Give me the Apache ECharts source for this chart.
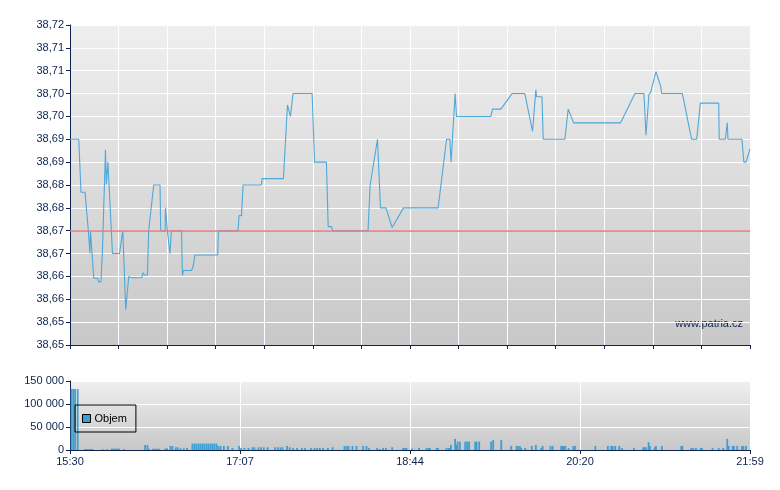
<!DOCTYPE html>
<html><head><meta charset="utf-8">
<script src="https://cdn.jsdelivr.net/npm/echarts@6/dist/echarts.min.js"></script>
<style>html,body{margin:0;padding:0;background:#fff}#c{width:780px;height:490px}</style>
</head><body><div id="c"></div>
<script>
// minutes after 15:30
const priceTimes = [0,5,6.3,8.6,10.5,11.4,11.7,12.4,13.6,15.9,16.4,17.7,18.5,20.3,20.8,21.7,22.5,24.3,28.3,30.2,31.9,32.4,33.6,34.9,41.0,41.8,42.6,44.3,45.0,47.9,51.5,51.9,54.4,54.6,55.3,55.7,57.2,58.0,63.8,64.3,64.9,69.5,70.4,71.5,84.5,84.9,96.1,96.7,98.1,99.0,109.5,109.9,122.1,124.4,125.3,126.1,126.9,127.6,138.5,139.9,146.7,147.7,149.6,150.2,170.5,171.7,175.9,177.6,180.7,184.3,190.8,210.6,215.4,217.3,218.0,220.3,221.1,240.8,241.7,246.5,252.9,260.2,264.6,266.5,266.9,270.0,270.7,283.1,285.0,288.1,315.0,323.2,328.3,329.5,331.2,332.2,335.2,337.9,338.5,350.3,355.6,358.5,360.6,371.1,371.4,374.9,376.0,376.4,384.4,385.5,386.7,389];
const priceValues = [38.695,38.695,38.6834,38.6834,38.675,38.670,38.675,38.675,38.6646,38.6646,38.6638,38.6638,38.670,38.6927,38.6851,38.690,38.690,38.670,38.670,38.675,38.6577,38.6577,38.665,38.6647,38.6647,38.6658,38.6653,38.6653,38.675,38.685,38.685,38.675,38.675,38.680,38.680,38.675,38.670,38.675,38.675,38.6652,38.6663,38.6663,38.6671,38.6697,38.6697,38.675,38.675,38.6783,38.6783,38.685,38.685,38.6864,38.6864,38.7025,38.7025,38.700,38.700,38.705,38.705,38.690,38.690,38.6759,38.6759,38.675,38.675,38.685,38.695,38.680,38.680,38.6757,38.680,38.680,38.695,38.695,38.690,38.705,38.700,38.700,38.7016,38.7016,38.705,38.705,38.6967,38.7058,38.7043,38.7043,38.695,38.695,38.7016,38.6986,38.6986,38.705,38.705,38.6959,38.7048,38.7053,38.7098,38.7066,38.705,38.705,38.695,38.695,38.7029,38.7029,38.695,38.695,38.6986,38.695,38.695,38.690,38.690,38.6929];
const refPrice = 38.675;

const volTimes = [0.9,1.9,2.9,4.4,8.6,9.7,10.9,12.0,13.0,18.9,21.2,23.9,25.0,26.2,27.3,27.9,30.7,42.9,44.3,45.2,47.5,48.6,49.8,50.9,54.6,55.5,57.5,58.6,60.5,61.6,63.2,65.1,67.0,70.0,71.2,72.3,73.5,74.6,75.8,76.9,78.1,79.2,80.4,81.5,82.6,83.8,84.9,86.1,88.0,90.3,92.9,96.7,97.9,99.8,102.1,104.4,105.5,107.8,109.3,110.9,113.1,117.3,118.9,120.4,121.6,124.2,125.7,127.6,129.9,132.6,134.5,137.9,139.9,141.4,142.9,144.8,147.5,150.2,157.0,158.2,159.3,161.6,163.9,167.7,169.6,171.1,175.7,177.2,179.1,180.7,184.3,190.6,191.7,192.5,195.7,199.7,204.0,205.1,205.9,209.7,210.6,215.4,216.6,217.3,217.9,220.3,220.9,221.7,223.0,226.1,227.2,228.3,231.8,232.6,234.1,240.9,242.1,246.7,252.4,255.5,256.2,257.4,258.1,260.4,264.2,266.5,269.6,270.4,274.9,276.1,281.0,281.8,282.5,283.3,285.2,287.9,289.0,300.5,307.7,309.6,310.4,311.9,314.2,315.7,322.6,327.9,328.7,329.5,331.0,331.8,334.5,335.2,338.6,349.7,350.3,355.4,356.5,358.1,360.8,361.5,367.6,371.1,373.7,376.0,376.8,379.1,379.8,381.7,384.4,385.2,386.7];
const volValues = [132700,132700,132700,132700,2200,2200,2200,2200,2200,1500,1500,3000,3000,3000,3000,3000,2000,11000,11000,2500,2500,2500,2500,2500,3000,4000,8800,8800,5900,5900,3700,3700,4400,13900,13900,13900,13900,13900,13900,13900,13900,13900,13900,13900,13900,13900,8800,8800,8800,8800,4400,8800,4400,4400,4400,5900,5900,5900,5900,5900,5900,5900,5900,5900,5900,8800,5900,4400,4400,4400,4400,4400,4400,4400,4400,4400,4400,5900,8800,8800,8800,8800,8800,8800,8800,4400,4400,2200,4400,4400,5900,4400,4400,4400,3000,4400,4400,4400,4400,4400,4400,4400,4400,4400,11000,24200,11000,18300,18300,18300,18300,18300,18300,18300,18300,18300,22000,22000,8800,8800,8800,8800,4400,4400,8800,11000,4400,8800,8800,8800,8800,8800,8800,8800,4400,8800,8800,8800,8800,8800,8800,8800,8800,4400,4400,5900,5900,5900,16900,8800,5900,8800,8800,8800,8800,4400,4400,4400,4400,4400,4400,4400,4400,24200,8800,8800,8800,8800,8800,8800,8800];
const timeLabels = ['15:30','17:07','18:44','20:20','21:59'];
const sessionMinutes = 389;

const navy = '#0c2350';
const font = 'Liberation Sans, Arial, sans-serif';
const bg = new echarts.graphic.LinearGradient(0,0,0,1,[{offset:0,color:'#efefef'},{offset:1,color:'#c8c8c8'}]);
const chart = echarts.init(document.getElementById('c'), null, {renderer:'canvas'});
const fmtPrice = v => (Math.floor(v*100+1e-6)/100).toFixed(2).replace('.', ',');
const fmtVol = v => String(Math.round(v)).replace(/\B(?=(\d{3})+(?!\d))/g, ' ');

chart.setOption({
  animation:false,
  textStyle:{fontFamily:font},
  grid:[
    {left:70,right:30,top:25,height:320,show:true,backgroundColor:bg,borderWidth:0},
    {left:70,right:30,top:381,height:69,show:true,backgroundColor:bg,borderWidth:0}
  ],
  legend:{
    data:['Objem'], left:75, top:405, orient:'vertical',
    borderColor:'#000', borderWidth:1, padding:[8,9,8,7],
    itemWidth:8, itemHeight:8, itemGap:4, icon:'rect',
    itemStyle:{borderColor:'#000',borderWidth:1},
    textStyle:{fontSize:11,color:'#000',fontFamily:font,padding:[0,0,0,-1]}
  },
  xAxis:[
    {type:'value',gridIndex:0,min:0,max:sessionMinutes,interval:sessionMinutes/14,
     axisLine:{lineStyle:{color:navy,width:1}},axisTick:{show:true,length:4,lineStyle:{color:navy}},
     axisLabel:{show:false},splitLine:{show:true,lineStyle:{color:'#ffffff',width:1}}},
    {type:'value',gridIndex:1,min:0,max:sessionMinutes,interval:sessionMinutes/4,
     axisLine:{lineStyle:{color:navy,width:1}},axisTick:{show:true,length:4,lineStyle:{color:navy}},
     axisLabel:{color:navy,fontSize:11,fontFamily:font,margin:6,
       formatter:v=>timeLabels[Math.round(v/(sessionMinutes/4))]||''},
     splitLine:{show:true,lineStyle:{color:'#ffffff',width:1}}}
  ],
  yAxis:[
    {type:'value',gridIndex:0,min:38.65,max:38.72,interval:0.005,
     axisLine:{show:true,lineStyle:{color:navy,width:1}},axisTick:{show:true,length:4,lineStyle:{color:navy}},
     axisLabel:{color:navy,fontSize:11,fontFamily:font,margin:6,formatter:fmtPrice},
     splitLine:{show:true,lineStyle:{color:'#ffffff',width:1}}},
    {type:'value',gridIndex:1,min:0,max:150000,interval:50000,
     axisLine:{show:true,lineStyle:{color:navy,width:1}},axisTick:{show:true,length:4,lineStyle:{color:navy}},
     axisLabel:{color:navy,fontSize:11,fontFamily:font,margin:6,formatter:fmtVol},
     splitLine:{show:true,lineStyle:{color:'#ffffff',width:1}}}
  ],
  series:[
    {name:'Cena',type:'line',xAxisIndex:0,yAxisIndex:0,showSymbol:false,
     data:priceTimes.map((t,i)=>[t,priceValues[i]]),
     lineStyle:{color:'#4ea8d8',width:1.1},itemStyle:{color:'#4ea8d8'},
     markLine:{symbol:'none',silent:true,precision:4,label:{show:false},
       lineStyle:{color:'#dc7b7b',width:1.6,type:'solid'},data:[{yAxis:refPrice}]}},
    {name:'Objem',type:'bar',xAxisIndex:1,yAxisIndex:1,barWidth:1.8,
     data:volTimes.map((t,i)=>[t,volValues[i]]),
     itemStyle:{color:'#3f9fd2'}}
  ],
  graphic:[
    {type:'text',right:37,top:318,style:{text:'www.patria.cz',fill:navy,font:'11px '+font,textAlign:'right'}}
  ]
});
</script></body></html>
